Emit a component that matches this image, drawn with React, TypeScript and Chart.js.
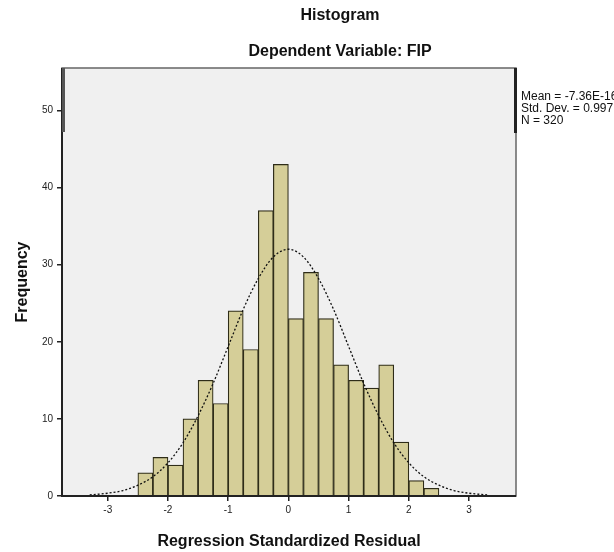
import React, { useEffect, useRef } from "react";
import { Chart, registerables } from "chart.js";

Chart.register(...registerables);

// Histogram bins (bin centres, width 0.25) and frequencies
const binCenters = [
  -2.375, -2.125, -1.875, -1.625, -1.375, -1.125, -0.875, -0.625, -0.375, -0.125,
  0.125, 0.375, 0.625, 0.875, 1.125, 1.375, 1.625, 1.875, 2.125, 2.375,
];
const frequencies = [3, 5, 4, 10, 15, 12, 24, 19, 37, 43, 23, 29, 23, 17, 15, 14, 17, 7, 2, 1];

// Normal curve
const curveX = [
  -3.3, -3, -2.75, -2.5, -2.25, -2, -1.75, -1.5, -1.25, -1, -0.75, -0.5, -0.25, 0,
  0.25, 0.5, 0.75, 1, 1.25, 1.5, 1.75, 2, 2.25, 2.5, 2.75, 3, 3.3,
];
const curveY = [
  0.14, 0.36, 0.7, 1.4, 2.5, 4.3, 6.9, 10.4, 14.6, 19.4, 24.2, 28.2, 31.0, 32.0,
  31.0, 28.2, 24.2, 19.4, 14.6, 10.4, 6.9, 4.3, 2.5, 1.4, 0.7, 0.36, 0.14,
];

const xTickValues = [-3, -2, -1, 0, 1, 2, 3];
const yTickValues = [0, 10, 20, 30, 40, 50];

const titleLines = ["Histogram", "Dependent Variable: FIP"];
const statLines = ["Mean = -7.36E-16", "Std. Dev. = 0.997", "N = 320"];
const xAxisTitle = "Regression Standardized Residual";
const yAxisTitle = "Frequency";

const FONT = "'Liberation Sans', Arial, sans-serif";

const decorPlugin = {
  id: "decor",
  beforeDatasetsDraw(chart: any) {
    const { ctx, chartArea: a } = chart;
    ctx.save();
    ctx.fillStyle = "#f0f0f0";
    ctx.fillRect(a.left, a.top, a.right - a.left, a.bottom - a.top);
    ctx.restore();
  },
  afterDraw(chart: any) {
    const { ctx, chartArea: a } = chart;
    ctx.save();
    // frame
    ctx.strokeStyle = "#666";
    ctx.lineWidth = 1.5;
    ctx.strokeRect(a.left, a.top, a.right - a.left, a.bottom - a.top);
    ctx.strokeStyle = "#222";
    ctx.lineWidth = 2;
    ctx.beginPath();
    ctx.moveTo(a.left, a.top);
    ctx.lineTo(a.left, a.bottom);
    ctx.lineTo(a.right, a.bottom);
    ctx.stroke();
    // darker strips
    ctx.fillStyle = "#555";
    ctx.fillRect(a.left, a.top, 3, 64);
    ctx.fillStyle = "#222";
    ctx.fillRect(a.right - 2, a.top, 3, 65);

    // titles
    ctx.fillStyle = "#111";
    ctx.textAlign = "center";
    ctx.textBaseline = "middle";
    ctx.font = `bold 16px ${FONT}`;
    ctx.fillText(titleLines[0], 340, 16);
    ctx.fillText(titleLines[1], 340, 52);

    // axis titles
    ctx.font = `bold 16px ${FONT}`;
    ctx.fillText(xAxisTitle, (a.left + a.right) / 2, 542);
    ctx.save();
    ctx.translate(23, (a.top + a.bottom) / 2);
    ctx.rotate(-Math.PI / 2);
    ctx.fillText(yAxisTitle, 0, 0);
    ctx.restore();

    // stats
    ctx.textAlign = "left";
    ctx.font = `12px ${FONT}`;
    ctx.fillStyle = "#111";
    statLines.forEach((s, i) => ctx.fillText(s, a.right + 5, 97 + i * 12));
    ctx.restore();
  },
};

export default function App() {
  const ref = useRef<HTMLCanvasElement | null>(null);
  useEffect(() => {
    document.body.style.margin = "0";
    const chart = new Chart(ref.current as HTMLCanvasElement, {
      type: "bar",
      data: {
        datasets: [
          {
            type: "line",
            data: curveX.map((x, i) => ({ x, y: curveY[i] })),
            borderColor: "#111",
            borderWidth: 1.3,
            borderDash: [2, 2],
            pointRadius: 0,
            fill: false,
            cubicInterpolationMode: "monotone",
            order: 0,
          } as any,
          {
            type: "bar",
            data: binCenters.map((x, i) => ({ x, y: frequencies[i] })),
            backgroundColor: "#d5ce98",
            borderColor: "#2e2c18",
            borderWidth: 1.2,
            barPercentage: 1,
            categoryPercentage: 1,
            order: 1,
          } as any,
        ],
      },
      options: {
        responsive: false,
        animation: false,
        devicePixelRatio: 1,
        layout: { padding: { top: 68, right: 98, left: 0, bottom: 0 } },
        plugins: { legend: { display: false }, tooltip: { enabled: false }, title: { display: false } },
        scales: {
          x: {
            type: "linear",
            min: -3.76,
            max: 3.78,
            offset: false,
            afterFit: (s: any) => {
              s.height = 56;
            },
            afterBuildTicks: (s: any) => {
              s.ticks = xTickValues.map((v) => ({ value: v }));
            },
            grid: { display: true, offset: false, drawOnChartArea: false, drawTicks: true, tickLength: 5, color: "#222", lineWidth: 1.5 },
            border: { display: false },
            ticks: { color: "#222", font: { size: 10, family: FONT }, padding: 3, callback: (v: any) => String(v) },
          },
          y: {
            type: "linear",
            min: 0,
            max: 55.5,
            afterFit: (s: any) => {
              s.width = 62;
            },
            afterBuildTicks: (s: any) => {
              s.ticks = yTickValues.map((v) => ({ value: v }));
            },
            grid: { display: true, offset: false, drawOnChartArea: false, drawTicks: true, tickLength: 5, color: "#222", lineWidth: 1.5 },
            border: { display: false },
            ticks: { color: "#222", font: { size: 10, family: FONT }, padding: 4, callback: (v: any) => String(v) },
          },
        },
      } as any,
      plugins: [decorPlugin],
    });
    return () => chart.destroy();
  }, []);
  return (
    <div style={{ position: "absolute", left: 0, top: 0, width: 614, height: 552, background: "#fff" }}>
      <canvas ref={ref} width={614} height={552} style={{ width: 614, height: 552 }} />
    </div>
  );
}
